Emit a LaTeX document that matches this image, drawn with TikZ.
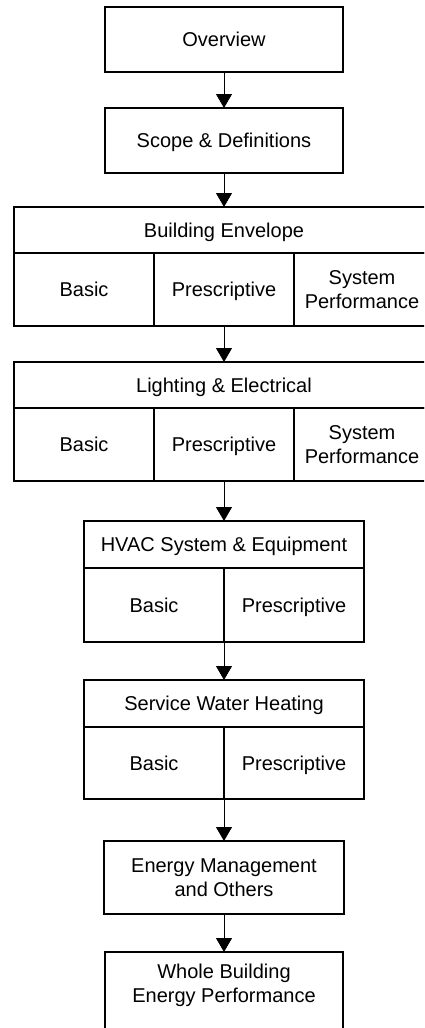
\documentclass[tikz,border=0pt]{standalone}
\usepackage{fontspec}
\setmainfont{Liberation Sans}
\usetikzlibrary{arrows.meta}
\begin{document}
\begin{tikzpicture}[x=1pt,y=-1pt,
  box/.style={draw, line width=2pt, outer sep=0pt, inner sep=0pt,
    font=\fontsize{20}{24}\selectfont, align=center, text height=14.3pt, text depth=0pt},
  txt/.style={inner sep=0pt, font=\fontsize{20}{24}\selectfont, align=center, text height=14.3pt, text depth=0pt},
  twoline/.style={text height=38.3pt},
  conn/.style={line width=0.9pt, -{Triangle[width=16pt,length=14pt]}}]
\useasboundingbox (0,0) rectangle (424,1028);
\clip (0,0) rectangle (424,1028);
% Overview and scope
\node[box, minimum width=238, minimum height=65] (ov) at (224,39.5) {Overview};
\node[box, minimum width=238, minimum height=65] (sc) at (224,140.5) {Scope \& Definitions};
% Building envelope
\node[box, minimum width=420, minimum height=46] (env) at (224,230) {Building Envelope};
\node[box, minimum width=140, minimum height=73] (envB) at (84,289.5) {Basic};
\node[box, minimum width=140, minimum height=73] (envP) at (224,289.5) {Prescriptive};
\node[box, minimum width=140, minimum height=73] (envS) at (364,289.5) {};
\node[txt, twoline] (envStext) at (362,289.5) {System\\Performance};
% Lighting
\node[box, minimum width=420, minimum height=46] (light) at (224,385) {Lighting \& Electrical};
\node[box, minimum width=140, minimum height=73] (lightB) at (84,444.5) {Basic};
\node[box, minimum width=140, minimum height=73] (lightP) at (224,444.5) {Prescriptive};
\node[box, minimum width=140, minimum height=73] (lightS) at (364,444.5) {};
\node[txt, twoline] (lightStext) at (362,444.5) {System\\Performance};
% HVAC
\node[box, minimum width=280, minimum height=47] (hvac) at (224,544.5) {HVAC System \& Equipment};
\node[box, minimum width=140, minimum height=74] (hvacB) at (154,605) {Basic};
\node[box, minimum width=140, minimum height=74] (hvacP) at (294,605) {Prescriptive};
% Service water heating
\node[box, minimum width=280, minimum height=47] (swh) at (224,703.5) {Service Water Heating};
\node[box, minimum width=140, minimum height=72] (swhB) at (154,763) {Basic};
\node[box, minimum width=140, minimum height=72] (swhP) at (294,763) {Prescriptive};
% Energy management
\node[box, twoline, minimum width=240, minimum height=73] (em) at (224,877.5) {Energy Management\\and Others};
% Whole building
\node[box, minimum width=238, minimum height=88] (whole) at (224,996) {};
\node[txt, twoline] (wholetext) at (224,983) {Whole Building\\Energy Performance};
% connectors
\draw[conn] (ov.south) -- (sc.north);
\draw[conn] (sc.south) -- (env.north);
\draw[conn] (envP.south) -- (light.north);
\draw[conn] (lightP.south) -- (hvac.north);
\draw[conn] (hvacB.south east) -- (swh.north);
\draw[conn] (swhB.south east) -- (em.north);
\draw[conn] (em.south) -- (whole.north);
\end{tikzpicture}
\end{document}
